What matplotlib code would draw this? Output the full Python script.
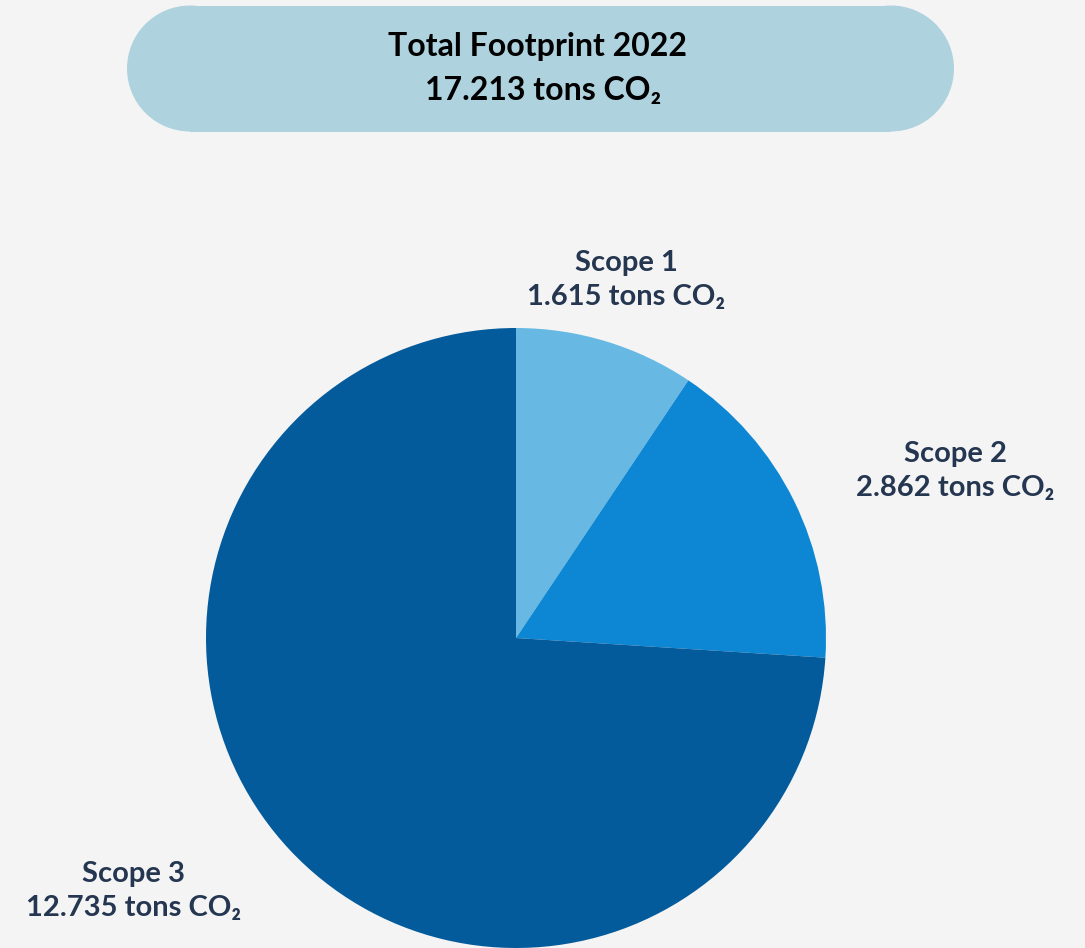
import matplotlib
matplotlib.use("Agg")
import matplotlib.pyplot as plt
from matplotlib.patches import Rectangle, Circle

# data
scopes = ["Scope 1", "Scope 2", "Scope 3"]
tons = [1.615, 2.862, 12.735]
total_label = "17.213"
year = "2022"
colors = ["#67b9e4", "#0d87d4", "#045b9c"]

BG = "#f4f4f4"
TXT = "#253650"
PILL = "#aed3df"
FONT = ["Lato", "DejaVu Sans"]

W, H = 1085, 948
fig = plt.figure(figsize=(W / 100, H / 100), dpi=100, facecolor=BG)
ax = fig.add_axes([0, 0, 1, 1])
ax.set_xlim(0, W)
ax.set_ylim(0, H)
ax.set_aspect("equal")
ax.axis("off")

# pie, clockwise from 12 o'clock
ax.pie(tons, colors=colors, startangle=90, counterclock=False,
       center=(516, H - 638), radius=310, wedgeprops=dict(linewidth=0))
ax.set_xlim(0, W)
ax.set_ylim(0, H)

# header pill: flat middle plus two half-circle ends
r, cy = 63, H - 68.5
x0, x1 = 127 + r, 954 - r
ax.add_patch(Rectangle((x0, cy - r), x1 - x0, 2 * r, fc=PILL, ec="none"))
for cx in (x0, x1):
    ax.add_patch(Circle((cx, cy), r, fc=PILL, ec="none"))

ax.text(537, H - 46, f"Total Footprint {year}", ha="center", va="center",
        fontsize=23, fontweight="bold", color="black", family=FONT)
ax.text(543, H - 90, f"{total_label} tons CO\u2082", ha="center", va="center",
        fontsize=23, fontweight="bold", color="black", family=FONT)

label_pos = [(626, 280), (955, 471), (134, 891)]
for name, val, (x, y) in zip(scopes, tons, label_pos):
    ax.text(x, H - y, f"{name}\n{val:.3f} tons CO\u2082", ha="center", va="center",
            fontsize=21, fontweight="bold", color=TXT, family=FONT,
            linespacing=1.4)

fig.savefig("out.png", dpi=100, facecolor=BG)
